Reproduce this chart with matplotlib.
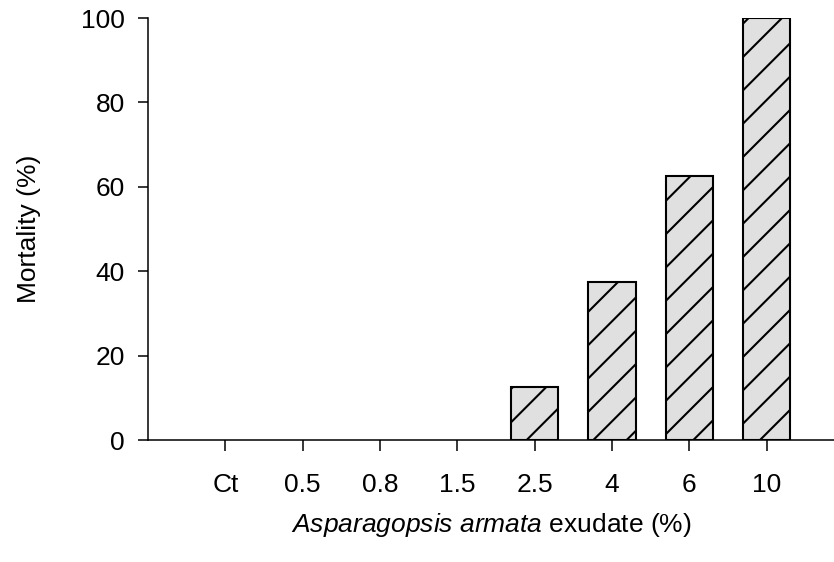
import matplotlib
matplotlib.use("Agg")
import matplotlib.pyplot as plt

# Mortality per exudate concentration
categories = ["Ct", "0.5", "0.8", "1.5", "2.5", "4", "6", "10"]
mortality = [0, 0, 0, 0, 12.5, 37.5, 62.5, 100]

plt.rcParams['font.family'] = ['Liberation Sans', 'DejaVu Sans']
plt.rcParams['mathtext.fontset'] = 'custom'
plt.rcParams['mathtext.rm'] = 'Liberation Sans'
plt.rcParams['mathtext.it'] = 'Liberation Sans:italic'
plt.rcParams['hatch.linewidth'] = 1.5

fig = plt.figure(figsize=(8.34, 5.62), dpi=100)
ax = fig.add_axes([148/834, 1 - 440/562, 1 - 148/834, (440 - 18)/562])

x = list(range(len(categories)))
bars = ax.bar(x, mortality, width=0.61, color='#e0e0e0', edgecolor='black',
              linewidth=1.5, hatch='/')
# empty bars are not drawn in the original
for b, v in zip(bars, mortality):
    if v == 0:
        b.set_visible(False)

ax.set_xlim(-1, 7.87)
ax.set_ylim(0, 100)
ax.set_yticks([0, 20, 40, 60, 80, 100])
ax.set_xticks(x)
ax.set_xticklabels(categories)

ax.spines['top'].set_visible(False)
ax.spines['right'].set_visible(False)
ax.spines['left'].set_linewidth(1.1)
ax.spines['bottom'].set_linewidth(1.1)
ax.tick_params(axis='y', direction='out', length=7.5, width=1.1, labelsize=19, pad=9)
ax.tick_params(axis='x', direction='out', length=8, width=1.1, labelsize=19, pad=16)

ax.set_ylabel('Mortality (%)', fontsize=19, labelpad=29)
ax.set_xlabel(r'$Asparagopsis\ armata$ exudate (%)', fontsize=19, labelpad=10)

fig.savefig('out.png', dpi=100)
